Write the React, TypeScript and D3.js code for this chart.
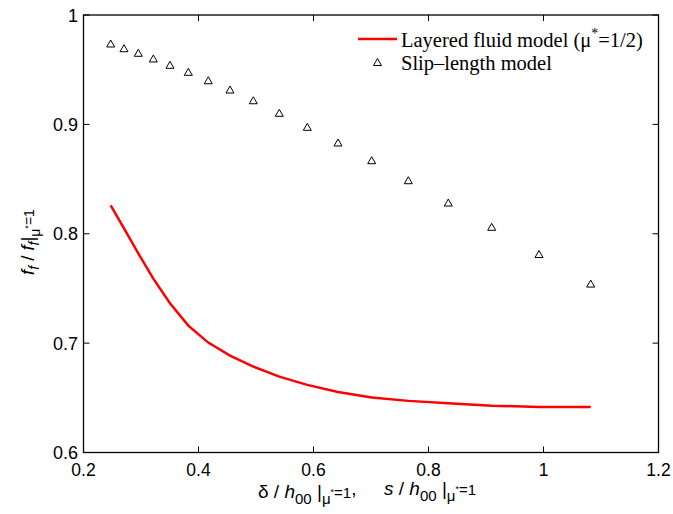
import React from "react";
import * as d3 from "d3";

const slipX = [0.2473, 0.2704, 0.2953, 0.3214, 0.3504, 0.3823, 0.417, 0.4548, 0.4953, 0.5405, 0.5892, 0.6426, 0.7012, 0.7649, 0.8344, 0.9099, 0.9922, 1.0821];
const slipY = [0.9735, 0.9692, 0.965, 0.9598, 0.954, 0.9476, 0.9399, 0.9314, 0.9216, 0.9101, 0.8973, 0.883, 0.8668, 0.8485, 0.8281, 0.8059, 0.781, 0.754];
const layerX = [0.2473, 0.2704, 0.2953, 0.3214, 0.3504, 0.3823, 0.417, 0.4548, 0.4953, 0.5405, 0.5892, 0.6426, 0.7012, 0.7649, 0.8344, 0.9099, 0.9922, 1.0821];
const layerY = [0.826, 0.805, 0.782, 0.759, 0.7365, 0.716, 0.7005, 0.6886, 0.6786, 0.6694, 0.6618, 0.6554, 0.6502, 0.6472, 0.645, 0.6428, 0.6417, 0.6415];
const xTicks = [0.2, 0.4, 0.6, 0.8, 1, 1.2];
const yTicks = [0.6, 0.7, 0.8, 0.9, 1];
const legendLabels = ["Layered fluid model (μ", "Slip–length model"];

const W = 673, H = 514;
const L = 83.5, R = 658.5, T = 15, B = 452.5;

export default function App() {
  const x = d3.scaleLinear().domain([0.2, 1.2]).range([L, R]);
  const y = d3.scaleLinear().domain([0.6, 1]).range([B, T]);
  const line = d3.line<number>().x((d, i) => x(layerX[i])).y((d) => y(d));
  const tri = (cx: number, cy: number) => `M${cx},${cy - 4} L${cx + 4},${cy + 3} L${cx - 4},${cy + 3} Z`;
  const sans = "'Liberation Sans', Arial, sans-serif";
  const serif = "'Liberation Serif', 'Times New Roman', serif";
  const tl = 6;
  return (
    <svg width={W} height={H} style={{ position: "absolute", left: 0, top: 0, background: "#fff" }}>
      <rect x={0} y={0} width={W} height={H} fill="#fff" />
      {/* data */}
      <path d={line(layerY) || ""} fill="none" stroke="#ff0000" strokeWidth={2.5} />
      {slipY.map((v, i) => (
        <path key={i} d={tri(x(slipX[i]), y(v))} fill="none" stroke="#000" strokeWidth={1} />
      ))}
      {/* frame */}
      <rect x={L} y={T} width={R - L} height={B - T} fill="none" stroke="#000" strokeWidth={1.3} />
      {xTicks.map((t) => (
        <g key={"x" + t}>
          <line x1={x(t)} x2={x(t)} y1={B} y2={B - tl} stroke="#000" strokeWidth={1} />
          <line x1={x(t)} x2={x(t)} y1={T} y2={T + tl} stroke="#000" strokeWidth={1} />
          <text x={x(t)} y={476} textAnchor="middle" fontFamily={sans} fontSize={17.5} fill="#000">
            {d3.format("~g")(t)}
          </text>
        </g>
      ))}
      {yTicks.map((t) => (
        <g key={"y" + t}>
          <line x1={L} x2={L + tl} y1={y(t)} y2={y(t)} stroke="#000" strokeWidth={1} />
          <line x1={R} x2={R - tl} y1={y(t)} y2={y(t)} stroke="#000" strokeWidth={1} />
          <text x={78} y={y(t) + 6.5} textAnchor="end" fontFamily={sans} fontSize={18} fill="#000">
            {d3.format("~g")(t)}
          </text>
        </g>
      ))}
      {/* legend */}
      <line x1={358} x2={397} y1={39} y2={39} stroke="#ff0000" strokeWidth={2.5} />
      <text x={401} y={47} fontFamily={serif} fontSize={20.5} fill="#000">
        {legendLabels[0]}
        <tspan fontSize={14} dy={-9}>*</tspan>
        <tspan dy={9}>=1/2)</tspan>
      </text>
      <path d={tri(377.5, 62.5)} fill="none" stroke="#000" strokeWidth={1} />
      <text x={401} y={70} fontFamily={serif} fontSize={20.5} fill="#000">
        {legendLabels[1]}
      </text>
      {/* x label */}
      <text x={258} y={497.5} fontFamily={sans} fontSize={19} fill="#000" xmlSpace="preserve">
        <tspan>δ / </tspan>
        <tspan fontStyle="italic">h</tspan>
        <tspan fontSize={15} dy={6}>00</tspan>
        <tspan dy={-6}> |</tspan>
        <tspan fontSize={15} dy={6}>μ</tspan>
        <tspan fontSize={9} dy={-9}>*</tspan>
        <tspan fontSize={15} dy={3}>=1</tspan>
        <tspan dy={-3}>,</tspan>
        <tspan x={384} fontStyle="italic">s</tspan>
        <tspan> / </tspan>
        <tspan fontStyle="italic">h</tspan>
        <tspan fontSize={15} dy={6}>00</tspan>
        <tspan dy={-6}> |</tspan>
        <tspan fontSize={15} dy={6}>μ</tspan>
        <tspan fontSize={9} dy={-9}>*</tspan>
        <tspan fontSize={15} dy={3}>=1</tspan>
      </text>
      {/* y label */}
      <text transform="translate(34,275) rotate(-90)" fontFamily={sans} fontSize={18.5} fill="#000" xmlSpace="preserve">
        <tspan fontStyle="italic">f</tspan>
        <tspan fontSize={14} fontStyle="italic" dy={5}>f</tspan>
        <tspan dy={-5}> / </tspan>
        <tspan fontStyle="italic">f</tspan>
        <tspan fontSize={14} fontStyle="italic" dy={5}>f</tspan>
        <tspan dy={-5}>|</tspan>
        <tspan fontSize={14} dy={6}>μ</tspan>
        <tspan fontSize={9} dy={-9}>*</tspan>
        <tspan fontSize={14} dy={3}>=1</tspan>
      </text>
    </svg>
  );
}
